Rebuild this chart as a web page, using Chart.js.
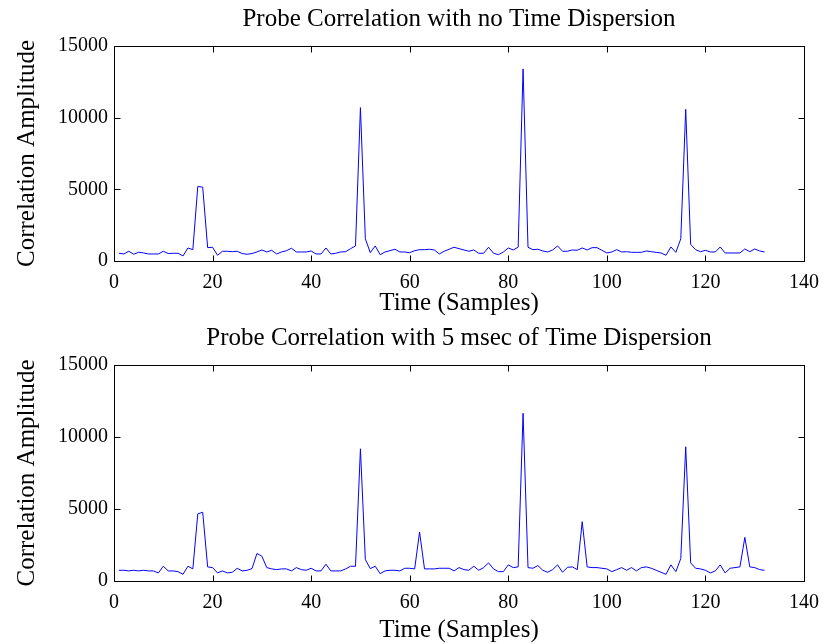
<!DOCTYPE html>
<html>
<head>
<meta charset="utf-8">
<script src="https://cdn.jsdelivr.net/npm/chart.js@4/dist/chart.umd.min.js"></script>
<style>
  html, body { margin: 0; padding: 0; background: #fff; overflow: hidden; }
  #wrap { position: relative; width: 829px; height: 644px; overflow: hidden; }
  .panel { position: absolute; left: 0; width: 829px; }
</style>
</head>
<body>
<div id="wrap">
  <div class="panel" style="top:0"><canvas id="top-chart" width="829" height="322"></canvas></div>
  <div class="panel" style="top:322px"><canvas id="bottom-chart" width="829" height="324"></canvas></div>
</div>
<script>
'use strict';

// ==================== DATA ====================

const topTitle = 'Probe Correlation with no Time Dispersion';
const bottomTitle = 'Probe Correlation with 5 msec of Time Dispersion';
const xLabel = 'Time (Samples)';
const yLabel = 'Correlation Amplitude';

const xTicks = [0, 20, 40, 60, 80, 100, 120, 140];
const yTicks = [0, 5000, 10000, 15000];

// samples 1..132
const noDispersion = [
    540, 490, 680, 470, 610, 560, 490, 490, 490, 680,
    520, 540, 540, 350, 910, 790, 5200, 5150, 930, 960,
    400, 680, 680, 650, 680, 520, 470, 520, 630, 770,
    630, 750, 490, 630, 720, 890, 630, 630, 630, 700,
    490, 490, 910, 490, 540, 630, 650, 860, 1050, 10700,
    1550, 580, 1050, 440, 630, 720, 820, 630, 630, 580,
    720, 790, 790, 820, 770, 490, 680, 820, 960, 860,
    770, 680, 770, 540, 540, 960, 540, 440, 630, 910,
    770, 960, 13400, 960, 790, 820, 700, 630, 770, 1050,
    680, 680, 770, 750, 910, 770, 930, 930, 745, 560,
    630, 790, 630, 650, 605, 605, 605, 700, 650, 605,
    560, 400, 980, 605, 1550, 10580, 1165, 790, 650, 745,
    630, 630, 980, 560, 560, 560, 560, 840, 650, 840,
    700, 630
];

const withDispersion = [
    745, 745, 700, 745, 700, 745, 700, 700, 560, 1025,
    700, 700, 650, 465, 1025, 840, 4660, 4775, 980, 930,
    560, 700, 560, 605, 885, 700, 745, 860, 1910, 1725,
    930, 840, 790, 840, 840, 700, 930, 790, 745, 885,
    700, 700, 1165, 700, 700, 700, 840, 1025, 1025, 9180,
    1490, 860, 1025, 510, 700, 745, 745, 700, 885, 885,
    840, 3400, 840, 840, 840, 885, 885, 885, 700, 930,
    790, 745, 1025, 745, 930, 1260, 840, 650, 650, 1120,
    930, 980, 11650, 930, 885, 1070, 745, 605, 790, 1120,
    605, 950, 980, 790, 4120, 980, 930, 930, 885, 840,
    650, 790, 930, 745, 930, 700, 930, 980, 885, 745,
    605, 465, 1120, 650, 1560, 9320, 1260, 885, 840, 745,
    560, 700, 1120, 560, 885, 930, 980, 3030, 980, 930,
    790, 745
];

// ==================== HELPERS ====================

const FONT = "'Liberation Serif', 'Times New Roman', serif";

// MATLAB-style box with inward ticks on all four sides
const boxPlugin = {
    id: 'matlabBox',
    afterDatasetsDraw(chart) {
        const { ctx, chartArea: a, scales } = chart;
        const L = Math.round(a.left) + 0.5, R = Math.round(a.right) + 0.5;
        const T = Math.round(a.top) + 0.5, B = Math.round(a.bottom) + 0.5;
        const len = 6;
        ctx.save();
        ctx.strokeStyle = '#000';
        ctx.lineWidth = 1;
        ctx.strokeRect(L, T, R - L, B - T);
        ctx.beginPath();
        xTicks.slice(1, -1).forEach(v => {
            const x = Math.round(scales.x.getPixelForValue(v)) + 0.5;
            ctx.moveTo(x, B); ctx.lineTo(x, B - len);
            ctx.moveTo(x, T); ctx.lineTo(x, T + len);
        });
        yTicks.slice(1, -1).forEach(v => {
            const y = Math.round(scales.y.getPixelForValue(v)) + 0.5;
            ctx.moveTo(L, y); ctx.lineTo(L + len, y);
            ctx.moveTo(R, y); ctx.lineTo(R - len, y);
        });
        ctx.stroke();
        ctx.restore();
    }
};

function renderPanel(id, title, values, opts) {
    const ctx = document.getElementById(id).getContext('2d');
    const points = values.map((v, i) => ({ x: i + 1, y: v }));

    return new Chart(ctx, {
        type: 'line',
        data: {
            datasets: [{
                data: points,
                borderColor: '#0000ff',
                borderWidth: 1,
                pointRadius: 0,
                tension: 0,
                fill: false
            }]
        },
        options: {
            responsive: false,
            animation: false,
            events: [],
            layout: { padding: { left: 0, right: 20, top: 0, bottom: 0 } },
            scales: {
                x: {
                    type: 'linear',
                    min: 0,
                    max: 140,
                    afterBuildTicks: s => { s.ticks = xTicks.map(v => ({ value: v })); },
                    afterFit: s => { s.height = opts.xHeight; },
                    grid: { display: false, drawTicks: false },
                    border: { display: false },
                    ticks: {
                        color: '#000',
                        padding: opts.xTickPad,
                        maxRotation: 0,
                        callback: v => String(v),
                        font: { family: FONT, size: 20 }
                    },
                    title: {
                        display: true,
                        text: xLabel,
                        color: '#000',
                        padding: { top: 0, bottom: opts.xTitlePad },
                        font: { family: FONT, size: 25 }
                    }
                },
                y: {
                    min: 0,
                    max: 15000,
                    afterBuildTicks: s => { s.ticks = yTicks.map(v => ({ value: v })); },
                    afterFit: s => { s.width = 114; },
                    grid: { display: false, drawTicks: false },
                    border: { display: false },
                    ticks: {
                        color: '#000',
                        padding: 6,
                        callback: v => String(v),
                        font: { family: FONT, size: 20 }
                    },
                    title: {
                        display: true,
                        text: yLabel,
                        color: '#000',
                        padding: { top: 12.5, bottom: 0 },
                        font: { family: FONT, size: 25 }
                    }
                }
            },
            plugins: {
                legend: { display: false },
                tooltip: { enabled: false },
                title: {
                    display: true,
                    fullSize: false,
                    text: title,
                    color: '#000',
                    padding: opts.titlePad,
                    font: { family: FONT, size: 25, weight: 'normal' }
                }
            }
        },
        plugins: [boxPlugin]
    });
}

renderPanel('top-chart', topTitle, noDispersion, {
    titlePad: { top: 4.5, bottom: 11.5 },
    xHeight: 61,
    xTickPad: 10,
    xTitlePad: 4
});

renderPanel('bottom-chart', bottomTitle, withDispersion, {
    titlePad: { top: 1.5, bottom: 11.5 },
    xHeight: 65,
    xTickPad: 10,
    xTitlePad: 0.5
});
</script>
</body>
</html>
